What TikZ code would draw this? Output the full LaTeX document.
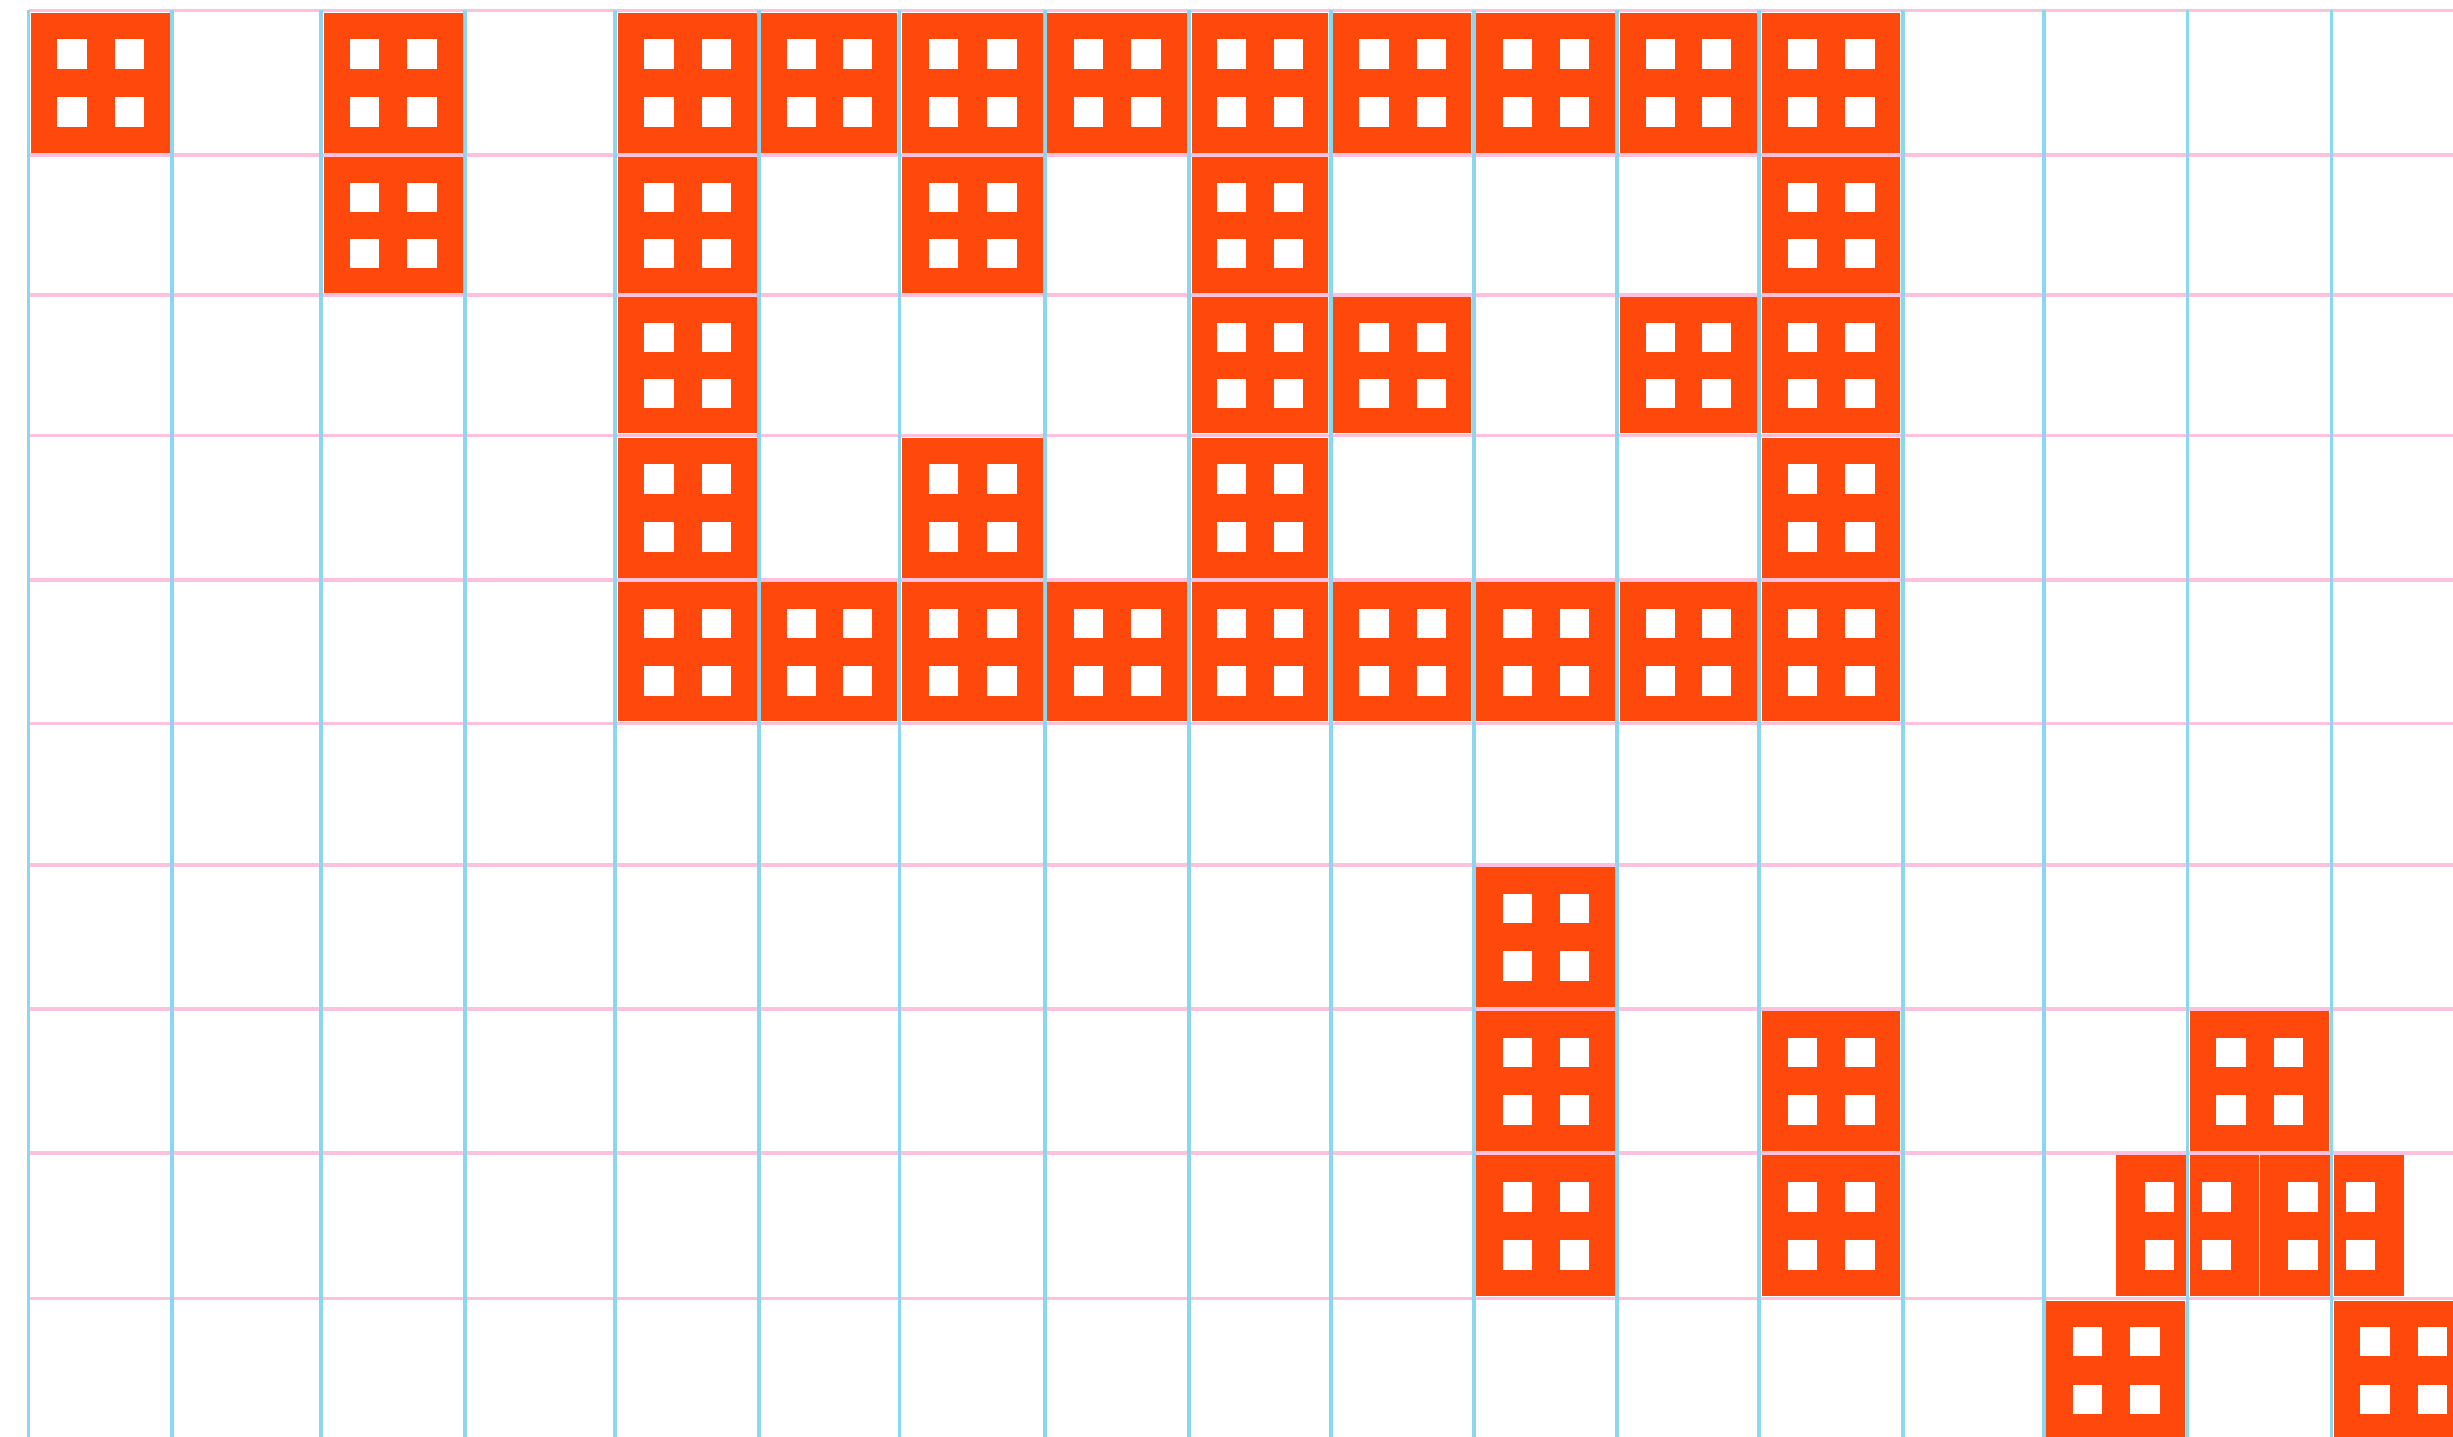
\documentclass[tikz,border=0pt]{standalone}
\definecolor{tileorange}{RGB}{255,72,12}
\definecolor{gridblue}{RGB}{140,214,240}
\definecolor{gridpink}{RGB}{255,192,221}
\def\XL{{28.5,172.4,321.2,465,615.4,759,899.5,1045,1189.1,1330.6,1473.8,1617.3,1759.1,1902.8,2044,2187.5,2331.5,2475.5}}
\def\YL{{10.5,155,295,435.3,580,723.5,865,1009,1153,1298.3,1442}}
\def\tinset{2.4}
\tikzset{
  tilefill/.style={fill=tileorange},
  winfill/.style={fill=white},
  hline/.style={draw=gridpink, line width=0.95pt},
  vline/.style={draw=gridblue, line width=1.1pt}
}
% white windows of a tile whose cell spans x1..x2, y1..y2
\newcommand\tilewindows[4]{%
  \pgfmathsetmacro\tw{#3-#1}\pgfmathsetmacro\th{#4-#2}%
  \foreach \a/\b in {0.2/0.405,0.6/0.805}{%
    \foreach \p/\q in {0.2/0.405,0.6/0.805}{%
      \fill[winfill] ({#1+\a*\tw},{#2+\p*\th}) rectangle ({#1+\b*\tw},{#2+\q*\th});
    }}%
}
\newcommand\drawtile[4]{%
  \fill[tilefill] ({#1+\tinset},{#2+\tinset}) rectangle ({#3-\tinset},{#4-\tinset});
  \tilewindows{#1}{#2}{#3}{#4}%
}
\newcommand\tilecell[2]{%
  \pgfmathsetmacro\cxa{\XL[#1]}\pgfmathsetmacro\cxb{\XL[#1+1]}%
  \pgfmathsetmacro\cya{\YL[#2]}\pgfmathsetmacro\cyb{\YL[#2+1]}%
  \drawtile{\cxa}{\cya}{\cxb}{\cyb}%
}
\begin{document}
\begin{tikzpicture}[x=0.01cm,y=-0.01cm]
\useasboundingbox[fill=white] (0,0) rectangle (2453,1437);
\clip (0,0) rectangle (2453,1437);
% grid: pink horizontals, blue verticals on top
\foreach \r in {0,...,9} {
  \pgfmathsetmacro\yy{\YL[\r]}
  \draw[hline] (28.5,\yy) -- (2453,\yy);
}
\foreach \c in {0,...,16} {
  \pgfmathsetmacro\xx{\XL[\c]}
  \draw[vline] (\xx,10.5) -- (\xx,1437);
}
% full tiles (column/row)
\foreach \c/\r in {0/0,2/0,4/0,5/0,6/0,7/0,8/0,9/0,10/0,11/0,12/0,
  2/1,4/1,6/1,8/1,12/1,
  4/2,8/2,9/2,11/2,12/2,
  4/3,6/3,8/3,12/3,
  4/4,5/4,6/4,7/4,8/4,9/4,10/4,11/4,12/4,
  10/6,
  10/7,12/7,15/7,
  10/8,12/8,
  14/9,16/9} {\tilecell{\c}{\r}}
% split tiles in row 8 (half-column offset)
\fill[tilefill] (2115.75,1155.5) rectangle (2185.5,1295.8);
\fill[tilefill] (2189.5,1155.5) rectangle (2259,1295.8);
\fill[tilefill] (2260,1155.5) rectangle (2329.5,1295.8);
\fill[tilefill] (2333.5,1155.5) rectangle (2403.5,1295.8);
\tilewindows{2115.75}{1153}{2259.5}{1298.3}
\tilewindows{2259.5}{1153}{2403.5}{1298.3}
\end{tikzpicture}
\end{document}
